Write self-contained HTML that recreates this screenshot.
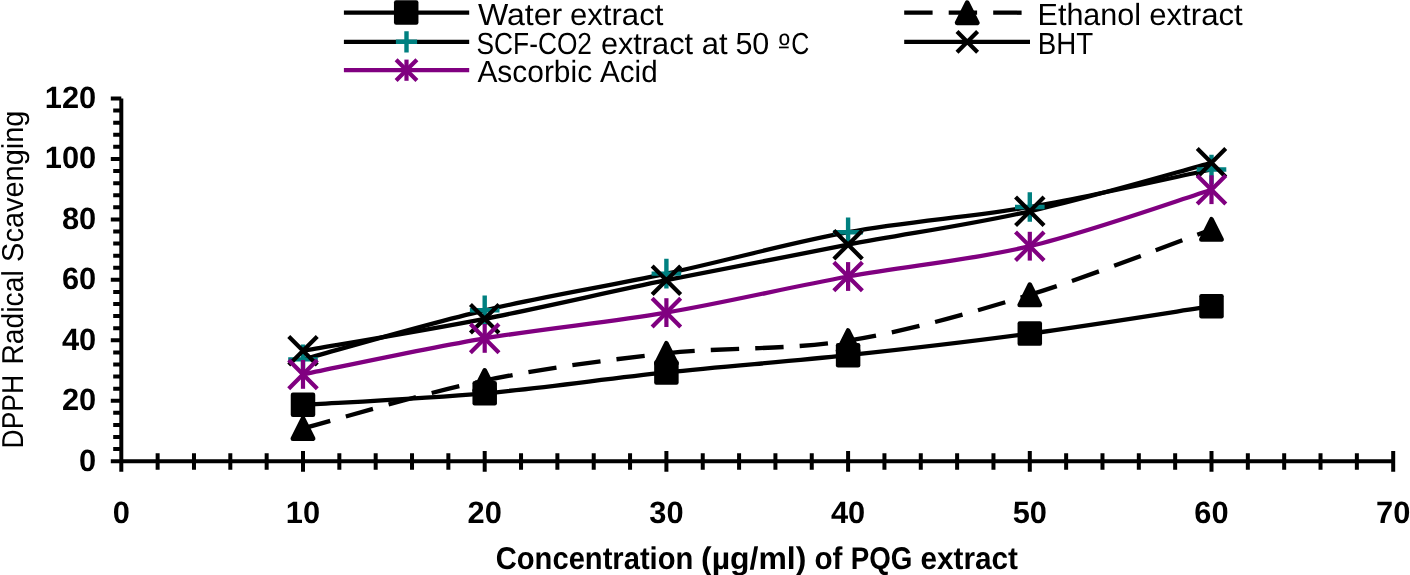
<!DOCTYPE html><html><head><meta charset="utf-8"><style>html,body{margin:0;padding:0;background:#fff;overflow:hidden}svg{display:block;will-change:transform}text{text-rendering:geometricPrecision}</style></head><body><svg width="1410" height="575" viewBox="0 0 1410 575"><rect width="1410" height="575" fill="#fff"/><path d="M121.3,98.6V471.8M110.8,461.2H1395.00M110.8,461.20H121.3M113.2,449.11H121.3M113.2,437.02H121.3M113.2,424.93H121.3M113.2,412.84H121.3M110.8,400.75H121.3M113.2,388.66H121.3M113.2,376.57H121.3M113.2,364.48H121.3M113.2,352.39H121.3M110.8,340.30H121.3M113.2,328.21H121.3M113.2,316.12H121.3M113.2,304.03H121.3M113.2,291.94H121.3M110.8,279.85H121.3M113.2,267.76H121.3M113.2,255.67H121.3M113.2,243.58H121.3M113.2,231.49H121.3M110.8,219.40H121.3M113.2,207.31H121.3M113.2,195.22H121.3M113.2,183.13H121.3M113.2,171.04H121.3M110.8,158.95H121.3M113.2,146.86H121.3M113.2,134.77H121.3M113.2,122.68H121.3M113.2,110.59H121.3M110.8,98.50H121.3M157.64,453.2V469.7M193.98,453.2V469.7M230.32,453.2V469.7M266.66,453.2V469.7M303.00,451V471.8M339.34,453.2V469.7M375.68,453.2V469.7M412.02,453.2V469.7M448.36,453.2V469.7M484.70,451V471.8M521.04,453.2V469.7M557.38,453.2V469.7M593.72,453.2V469.7M630.06,453.2V469.7M666.40,451V471.8M702.74,453.2V469.7M739.08,453.2V469.7M775.42,453.2V469.7M811.76,453.2V469.7M848.10,451V471.8M884.44,453.2V469.7M920.78,453.2V469.7M957.12,453.2V469.7M993.46,453.2V469.7M1029.80,451V471.8M1066.14,453.2V469.7M1102.48,453.2V469.7M1138.82,453.2V469.7M1175.16,453.2V469.7M1211.50,451V471.8M1247.84,453.2V469.7M1284.18,453.2V469.7M1320.52,453.2V469.7M1356.86,453.2V469.7M1393.20,451V471.8" stroke="#000" stroke-width="4.0" fill="none"/><path d="M303.00,404.80 C333.28,402.88 424.13,398.70 484.70,393.30 C545.27,387.90 605.83,378.75 666.40,372.40 C726.97,366.05 787.53,361.67 848.10,355.20 C908.67,348.73 969.23,341.77 1029.80,333.60 C1090.37,325.43 1181.22,310.77 1211.50,306.20" stroke="#000" stroke-width="4.3" fill="none"/><path d="M303.00,428.50 C333.28,420.50 424.13,393.02 484.70,380.50" stroke="#000" stroke-width="4.3" fill="none" stroke-dasharray="28.4 16.1"/><path d="M484.70,380.50 C545.27,367.98 605.83,360.05 666.40,353.40" stroke="#000" stroke-width="4.3" fill="none" stroke-dasharray="28.4 16.1"/><path d="M666.40,353.40 C726.97,346.75 787.53,350.37 848.10,340.60" stroke="#000" stroke-width="4.3" fill="none" stroke-dasharray="28.4 16.1"/><path d="M848.10,340.60 C908.67,330.83 969.23,313.33 1029.80,294.80" stroke="#000" stroke-width="4.3" fill="none" stroke-dasharray="28.4 16.1"/><path d="M1029.80,294.80 C1090.37,276.27 1181.22,240.30 1211.50,229.40" stroke="#000" stroke-width="4.3" fill="none" stroke-dasharray="28.4 16.1"/><path d="M303.00,359.40 C333.28,351.22 424.13,324.60 484.70,310.30 C545.27,296.00 605.83,286.62 666.40,273.60 C726.97,260.58 787.53,243.30 848.10,232.20 C908.67,221.10 969.23,217.45 1029.80,207.00 C1090.37,196.55 1181.22,175.75 1211.50,169.50" stroke="#000" stroke-width="4.3" fill="none"/><path d="M303.00,350.80 C333.28,345.47 424.13,330.57 484.70,318.80 C545.27,307.03 605.83,292.55 666.40,280.20 C726.97,267.85 787.53,256.18 848.10,244.70 C908.67,233.22 969.23,224.95 1029.80,211.30 C1090.37,197.65 1181.22,170.88 1211.50,162.80" stroke="#000" stroke-width="4.3" fill="none"/><path d="M303.00,374.40 C333.28,368.40 424.13,348.70 484.70,338.40 C545.27,328.10 605.83,322.92 666.40,312.60 C726.97,302.28 787.53,287.57 848.10,276.50 C908.67,265.43 969.23,260.67 1029.80,246.20 C1090.37,231.73 1181.22,199.12 1211.50,189.70" stroke="#800080" stroke-width="4.3" fill="none"/><rect x="290.75" y="392.55" width="24.5" height="24.5" rx="2.2" fill="#000"/><rect x="472.45" y="381.05" width="24.5" height="24.5" rx="2.2" fill="#000"/><rect x="654.15" y="360.15" width="24.5" height="24.5" rx="2.2" fill="#000"/><rect x="835.85" y="342.95" width="24.5" height="24.5" rx="2.2" fill="#000"/><rect x="1017.55" y="321.35" width="24.5" height="24.5" rx="2.2" fill="#000"/><rect x="1199.25" y="293.95" width="24.5" height="24.5" rx="2.2" fill="#000"/><path d="M303.00,418.35 L313.15,438.65 L292.85,438.65Z" fill="#000" stroke="#000" stroke-width="4.6" stroke-linejoin="round"/><path d="M484.70,370.35 L494.85,390.65 L474.55,390.65Z" fill="#000" stroke="#000" stroke-width="4.6" stroke-linejoin="round"/><path d="M666.40,343.25 L676.55,363.55 L656.25,363.55Z" fill="#000" stroke="#000" stroke-width="4.6" stroke-linejoin="round"/><path d="M848.10,330.45 L858.25,350.75 L837.95,350.75Z" fill="#000" stroke="#000" stroke-width="4.6" stroke-linejoin="round"/><path d="M1029.80,284.65 L1039.95,304.95 L1019.65,304.95Z" fill="#000" stroke="#000" stroke-width="4.6" stroke-linejoin="round"/><path d="M1211.50,219.25 L1221.65,239.55 L1201.35,239.55Z" fill="#000" stroke="#000" stroke-width="4.6" stroke-linejoin="round"/><path d="M288.20,359.40H317.80M303.00,344.60V374.20" stroke="#008080" stroke-width="4.4" fill="none"/><path d="M469.90,310.30H499.50M484.70,295.50V325.10" stroke="#008080" stroke-width="4.4" fill="none"/><path d="M651.60,273.60H681.20M666.40,258.80V288.40" stroke="#008080" stroke-width="4.4" fill="none"/><path d="M833.30,232.20H862.90M848.10,217.40V247.00" stroke="#008080" stroke-width="4.4" fill="none"/><path d="M1015.00,207.00H1044.60M1029.80,192.20V221.80" stroke="#008080" stroke-width="4.4" fill="none"/><path d="M1196.70,169.50H1226.30M1211.50,154.70V184.30" stroke="#008080" stroke-width="4.4" fill="none"/><path d="M288.75,336.55L317.25,365.05M317.25,336.55L288.75,365.05" stroke="#000" stroke-width="4.2" fill="none"/><path d="M470.45,304.55L498.95,333.05M498.95,304.55L470.45,333.05" stroke="#000" stroke-width="4.2" fill="none"/><path d="M652.15,265.95L680.65,294.45M680.65,265.95L652.15,294.45" stroke="#000" stroke-width="4.2" fill="none"/><path d="M833.85,230.45L862.35,258.95M862.35,230.45L833.85,258.95" stroke="#000" stroke-width="4.2" fill="none"/><path d="M1015.55,197.05L1044.05,225.55M1044.05,197.05L1015.55,225.55" stroke="#000" stroke-width="4.2" fill="none"/><path d="M1197.25,148.55L1225.75,177.05M1225.75,148.55L1197.25,177.05" stroke="#000" stroke-width="4.2" fill="none"/><path d="M288.70,360.10L317.30,388.70M317.30,360.10L288.70,388.70" stroke="#800080" stroke-width="4.2" fill="none"/><path d="M303.00,360.00V388.80" stroke="#800080" stroke-width="4.2" fill="none"/><path d="M470.40,324.10L499.00,352.70M499.00,324.10L470.40,352.70" stroke="#800080" stroke-width="4.2" fill="none"/><path d="M484.70,324.00V352.80" stroke="#800080" stroke-width="4.2" fill="none"/><path d="M652.10,298.30L680.70,326.90M680.70,298.30L652.10,326.90" stroke="#800080" stroke-width="4.2" fill="none"/><path d="M666.40,298.20V327.00" stroke="#800080" stroke-width="4.2" fill="none"/><path d="M833.80,262.20L862.40,290.80M862.40,262.20L833.80,290.80" stroke="#800080" stroke-width="4.2" fill="none"/><path d="M848.10,262.10V290.90" stroke="#800080" stroke-width="4.2" fill="none"/><path d="M1015.50,231.90L1044.10,260.50M1044.10,231.90L1015.50,260.50" stroke="#800080" stroke-width="4.2" fill="none"/><path d="M1029.80,231.80V260.60" stroke="#800080" stroke-width="4.2" fill="none"/><path d="M1197.20,175.40L1225.80,204.00M1225.80,175.40L1197.20,204.00" stroke="#800080" stroke-width="4.2" fill="none"/><path d="M1211.50,175.30V204.10" stroke="#800080" stroke-width="4.2" fill="none"/><path d="M343.9,12.7H469.2M343.9,41.8H469.2" stroke="#000" stroke-width="4.3" fill="none"/><path d="M343.9,70.2H469.2" stroke="#800080" stroke-width="4.3" fill="none"/><rect x="393.95" y="0.25" width="24.5" height="24.5" rx="2.2" fill="#000"/><path d="M395.90,41.80H417.10M406.50,31.20V52.40" stroke="#008080" stroke-width="4.4" fill="none"/><path d="M396.10,59.80L416.90,80.60M416.90,59.80L396.10,80.60" stroke="#800080" stroke-width="4.2" fill="none"/><path d="M406.50,59.60V80.80" stroke="#800080" stroke-width="4.2" fill="none"/><path d="M904.2,12.7H1030" stroke="#000" stroke-width="4.3" fill="none" stroke-dasharray="28.4 16.1"/><path d="M904.2,41.8H1030" stroke="#000" stroke-width="4.3" fill="none"/><path d="M967.20,2.55 L977.35,22.85 L957.05,22.85Z" fill="#000" stroke="#000" stroke-width="4.6" stroke-linejoin="round"/><path d="M957.00,31.60L977.60,52.20M977.60,31.60L957.00,52.20" stroke="#000" stroke-width="4.2" fill="none"/><text x="477.9" y="24.8" font-family="Liberation Sans, sans-serif" font-size="30.6" text-anchor="start" textLength="84.39" lengthAdjust="spacingAndGlyphs">Water</text><text x="569.98" y="24.8" font-family="Liberation Sans, sans-serif" font-size="30.6" text-anchor="start" textLength="93.43" lengthAdjust="spacingAndGlyphs">extract</text><text x="476.51" y="53.9" font-family="Liberation Sans, sans-serif" font-size="30.6" text-anchor="start" textLength="115.49" lengthAdjust="spacingAndGlyphs">SCF-CO2</text><text x="600.9" y="53.9" font-family="Liberation Sans, sans-serif" font-size="30.6" text-anchor="start" textLength="92.12" lengthAdjust="spacingAndGlyphs">extract</text><text x="701.79" y="53.9" font-family="Liberation Sans, sans-serif" font-size="30.6" text-anchor="start" textLength="25.85" lengthAdjust="spacingAndGlyphs">at</text><text x="735.38" y="53.9" font-family="Liberation Sans, sans-serif" font-size="30.6" text-anchor="start" textLength="33.95" lengthAdjust="spacingAndGlyphs">50</text><text x="779.0" y="54.9" font-family="Liberation Sans, sans-serif" font-size="30.6" text-anchor="start" textLength="10.68" lengthAdjust="spacingAndGlyphs">º</text><rect x="779.0" y="46.6" width="9.7" height="1.7" fill="#000"/><text x="791.21" y="53.9" font-family="Liberation Sans, sans-serif" font-size="30.6" text-anchor="start" textLength="18.05" lengthAdjust="spacingAndGlyphs">C</text><text x="477.4" y="82.0" font-family="Liberation Sans, sans-serif" font-size="30.6" text-anchor="start" textLength="114.72" lengthAdjust="spacingAndGlyphs">Ascorbic</text><text x="600.1" y="82.0" font-family="Liberation Sans, sans-serif" font-size="30.6" text-anchor="start" textLength="57.56" lengthAdjust="spacingAndGlyphs">Acid</text><text x="1037.58" y="24.9" font-family="Liberation Sans, sans-serif" font-size="30.6" text-anchor="start" textLength="103.48" lengthAdjust="spacingAndGlyphs">Ethanol</text><text x="1149.18" y="24.9" font-family="Liberation Sans, sans-serif" font-size="30.6" text-anchor="start" textLength="93.53" lengthAdjust="spacingAndGlyphs">extract</text><text x="1037.81" y="54.1" font-family="Liberation Sans, sans-serif" font-size="30.6" text-anchor="start" textLength="55.43" lengthAdjust="spacingAndGlyphs">BHT</text><text x="96.2" y="470.50" font-family="Liberation Sans, sans-serif" font-size="30.8" font-weight="bold" text-anchor="end">0</text><text x="96.2" y="410.05" font-family="Liberation Sans, sans-serif" font-size="30.8" font-weight="bold" text-anchor="end">20</text><text x="96.2" y="349.60" font-family="Liberation Sans, sans-serif" font-size="30.8" font-weight="bold" text-anchor="end">40</text><text x="96.2" y="289.15" font-family="Liberation Sans, sans-serif" font-size="30.8" font-weight="bold" text-anchor="end">60</text><text x="96.2" y="228.70" font-family="Liberation Sans, sans-serif" font-size="30.8" font-weight="bold" text-anchor="end">80</text><text x="96.2" y="168.25" font-family="Liberation Sans, sans-serif" font-size="30.8" font-weight="bold" text-anchor="end">100</text><text x="96.2" y="107.80" font-family="Liberation Sans, sans-serif" font-size="30.8" font-weight="bold" text-anchor="end">120</text><text x="121.30" y="522.8" font-family="Liberation Sans, sans-serif" font-size="30.8" font-weight="bold" text-anchor="middle">0</text><text x="303.00" y="522.8" font-family="Liberation Sans, sans-serif" font-size="30.8" font-weight="bold" text-anchor="middle">10</text><text x="484.70" y="522.8" font-family="Liberation Sans, sans-serif" font-size="30.8" font-weight="bold" text-anchor="middle">20</text><text x="666.40" y="522.8" font-family="Liberation Sans, sans-serif" font-size="30.8" font-weight="bold" text-anchor="middle">30</text><text x="848.10" y="522.8" font-family="Liberation Sans, sans-serif" font-size="30.8" font-weight="bold" text-anchor="middle">40</text><text x="1029.80" y="522.8" font-family="Liberation Sans, sans-serif" font-size="30.8" font-weight="bold" text-anchor="middle">50</text><text x="1211.50" y="522.8" font-family="Liberation Sans, sans-serif" font-size="30.8" font-weight="bold" text-anchor="middle">60</text><text x="1393.20" y="522.8" font-family="Liberation Sans, sans-serif" font-size="30.8" font-weight="bold" text-anchor="middle">70</text><text x="495.77" y="569" font-family="Liberation Sans, sans-serif" font-size="31.4" font-weight="bold" text-anchor="start" textLength="197.57" lengthAdjust="spacingAndGlyphs">Concentration</text><text x="701.08" y="569" font-family="Liberation Sans, sans-serif" font-size="31.4" font-weight="bold" text-anchor="start" textLength="105.28" lengthAdjust="spacingAndGlyphs">(µg/ml)</text><text x="814.46" y="569" font-family="Liberation Sans, sans-serif" font-size="31.4" font-weight="bold" text-anchor="start" textLength="28.01" lengthAdjust="spacingAndGlyphs">of</text><text x="850.73" y="569" font-family="Liberation Sans, sans-serif" font-size="31.4" font-weight="bold" text-anchor="start" textLength="61.75" lengthAdjust="spacingAndGlyphs">PQG</text><text x="920.45" y="569" font-family="Liberation Sans, sans-serif" font-size="31.4" font-weight="bold" text-anchor="start" textLength="97.52" lengthAdjust="spacingAndGlyphs">extract</text><g transform="translate(22.9,0) rotate(-90)"><text x="-448.45" y="0" font-family="Liberation Sans, sans-serif" font-size="30.2" text-anchor="start" textLength="73.58" lengthAdjust="spacingAndGlyphs">DPPH</text><text x="-364.57" y="0" font-family="Liberation Sans, sans-serif" font-size="30.2" text-anchor="start" textLength="94.25" lengthAdjust="spacingAndGlyphs">Radical</text><text x="-261.94" y="0" font-family="Liberation Sans, sans-serif" font-size="30.2" text-anchor="start" textLength="151.43" lengthAdjust="spacingAndGlyphs">Scavenging</text></g></svg></body></html>
